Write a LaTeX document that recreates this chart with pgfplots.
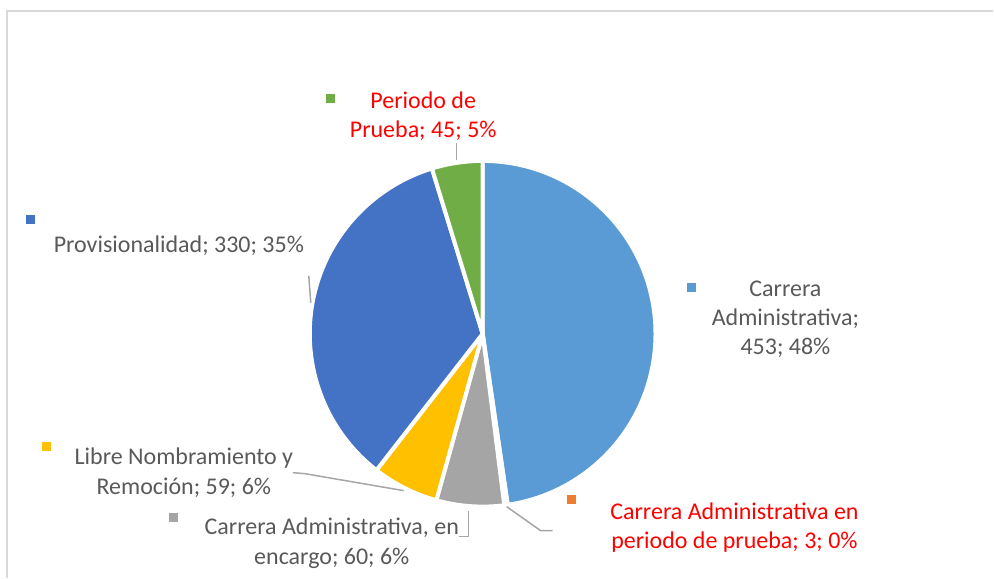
\documentclass[border=0pt]{standalone}
\usepackage{pgfplots}
\pgfplotsset{compat=1.18}
\usepackage{pgfplotstable}
\usepackage{fontspec}
\setmainfont{Carlito}
\definecolor{cA}{HTML}{5B9BD5}
\definecolor{cB}{HTML}{ED7D31}
\definecolor{cC}{HTML}{A5A5A5}
\definecolor{cD}{HTML}{FFC000}
\definecolor{cE}{HTML}{4472C4}
\definecolor{cF}{HTML}{70AD47}
\definecolor{lbl}{HTML}{595959}
\definecolor{lead}{HTML}{A6A6A6}
\definecolor{frm}{HTML}{D9D9D9}

% value of each slice (order: clockwise from 12 o'clock)
\pgfplotstableread{
key value
CA  453
CAP 3
CAE 60
LNR 59
PRO 330
PP  45
}\piedata

\newcommand\pcx{483}
\newcommand\pcy{334}
\newcommand\prad{173}

\begin{document}
\begin{tikzpicture}
% total
\gdef\total{0}
\foreach \i in {0,...,5}{%
  \pgfplotstablegetelem{\i}{value}\of\piedata
  \pgfmathsetmacro{\t}{\total+\pgfplotsretval}%
  \global\let\total\t
}
% cumulative angles
\gdef\cum{0}
\foreach \i in {0,...,5}{%
  \pgfplotstablegetelem{\i}{value}\of\piedata
  \pgfmathsetmacro{\a}{90-360*(\cum/\total)}%
  \pgfmathsetmacro{\newcum}{\cum+\pgfplotsretval}%
  \pgfmathsetmacro{\b}{90-360*(\newcum/\total)}%
  \expandafter\xdef\csname angS\i\endcsname{\a}%
  \expandafter\xdef\csname angE\i\endcsname{\b}%
  \global\let\cum\newcum
}
\newcommand\slice[2]{%
  \edef\temp{\noexpand\fill[#2, draw=white, line width=4pt, line join=round]
    (axis cs:\pcx,\pcy) -- ++(\csname angS#1\endcsname:\prad pt)
    arc[start angle=\csname angS#1\endcsname, end angle=\csname angE#1\endcsname, radius=\prad pt] -- cycle;}%
  \temp}
\begin{axis}[
  scale only axis, width=994pt, height=578pt,
  xmin=0, xmax=994, ymin=0, ymax=578, y dir=reverse,
  hide axis, clip=false]
\path (axis cs:0,0) rectangle (axis cs:994,578);
% frame
\draw[frm, line width=1.5pt] (axis cs:7,578) -- (axis cs:7,11) -- (axis cs:994,11);
% slices
\slice{0}{cA}
\slice{1}{cB}
\slice{2}{cC}
\slice{3}{cD}
\slice{4}{cE}
\slice{5}{cF}
% leader lines
\draw[lead, line width=1.5pt] (axis cs:457,143) -- (axis cs:457,160);
\draw[lead, line width=1.5pt] (axis cs:309,276) -- (axis cs:311,303);
\draw[lead, line width=1.5pt] (axis cs:293,473) -- (axis cs:305,474) -- (axis cs:404,491);
\draw[lead, line width=1.5pt] (axis cs:459,537) -- (axis cs:469,537) -- (axis cs:469,511);
\draw[lead, line width=1.5pt] (axis cs:507,507) -- (axis cs:541,531) -- (axis cs:553,531);
% legend keys
\tikzset{key/.style={minimum size=9pt, inner sep=0pt, draw=none}}
\node[key, fill=cF] at (axis cs:331,99) {};
\node[key, fill=cE] at (axis cs:31,220) {};
\node[key, fill=cA] at (axis cs:692,288) {};
\node[key, fill=cB] at (axis cs:572,500) {};
\node[key, fill=cC] at (axis cs:174,518) {};
\node[key, fill=cD] at (axis cs:47,447) {};
% labels
\tikzset{lab/.style={align=center, inner sep=0pt, font=\fontsize{24}{29.3}\selectfont, text=lbl}}
\node[lab, text=red] at (axis cs:423.5,116.5) {Periodo de\\Prueba; 45; 5\%};
\node[lab] at (axis cs:179,246) {Provisionalidad; 330; 35\%};
\node[lab] at (axis cs:786,319.5) {Carrera\\Administrativa;\\453; 48\%};
\node[lab, text=red] at (axis cs:735,528) {Carrera Administrativa en\\periodo de prueba; 3; 0\%};
\node[lab] at (axis cs:332,543.5) {Carrera Administrativa, en\\encargo; 60; 6\%};
\node[lab] at (axis cs:184,473) {Libre Nombramiento y\\Remoción; 59; 6\%};
\end{axis}
\end{tikzpicture}
\end{document}
